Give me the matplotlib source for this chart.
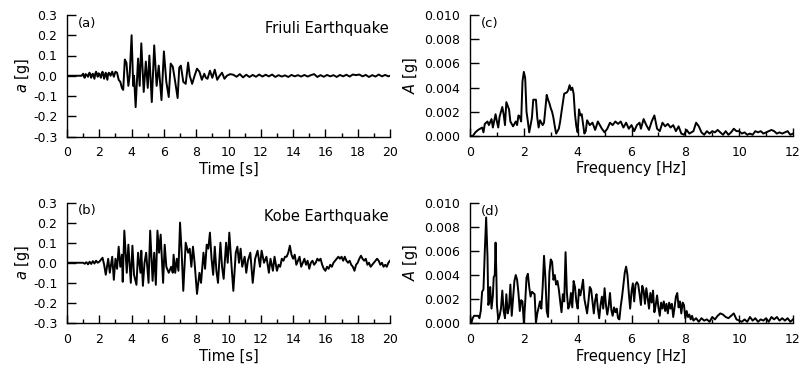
import matplotlib
matplotlib.use("Agg")
import matplotlib.pyplot as plt
from matplotlib.ticker import MultipleLocator

plt.rcParams['font.family'] = ['DejaVu Sans']
plt.rcParams['mathtext.fontset'] = 'custom'
plt.rcParams['mathtext.it'] = 'DejaVu Sans:italic'
plt.rcParams['mathtext.rm'] = 'DejaVu Sans'
plt.rcParams['xtick.direction'] = 'in'
plt.rcParams['ytick.direction'] = 'in'

# ---------------- Friuli time history ----------------
friuli_t = [0.0, 0.9, 1.0, 1.05, 1.1, 1.15, 1.2, 1.3, 1.35, 1.4, 1.5, 1.55, 1.6, 1.7, 1.75, 1.8,
            1.9, 1.95, 2.0, 2.1, 2.15, 2.2, 2.3, 2.35, 2.4, 2.5, 2.55, 2.6, 2.7, 2.75, 2.8, 2.9,
            3.0, 3.1, 3.2, 3.3, 3.4, 3.48, 3.58, 3.68, 3.8, 3.88, 4.0,
            4.1, 4.15, 4.25, 4.4, 4.5, 4.6, 4.75, 4.88, 5.0, 5.1, 5.25, 5.4, 5.55, 5.68, 5.85,
            6.0, 6.15, 6.3, 6.42, 6.55, 6.68, 6.85, 6.95, 7.05, 7.2, 7.35, 7.5, 7.6, 7.75, 7.9,
            8.05, 8.2, 8.35, 8.5, 8.6, 8.7, 8.85, 9.0, 9.15, 9.3, 9.45, 9.6, 9.75, 9.9, 10.1,
            10.3, 10.5, 10.7, 10.9, 11.1, 11.3, 11.5, 11.7, 11.9, 12.1, 12.3, 12.5, 12.7, 12.9,
            13.1, 13.3, 13.5, 13.7, 13.9, 14.1, 14.3, 14.5, 14.7, 14.9, 15.1, 15.3, 15.5, 15.7,
            15.9, 16.1, 16.3, 16.5, 16.7, 16.9, 17.1, 17.3, 17.5, 17.7, 17.9, 18.1, 18.3, 18.5,
            18.7, 18.9, 19.1, 19.3, 19.5, 19.7, 19.9, 20.0]
friuli_a = [0.0, 0.0, 0.01, -0.005, -0.01, 0.008, 0.005, -0.005, 0.01, 0.015, -0.01, 0.005, 0.01,
            -0.015, 0.01, 0.02, -0.005, 0.012, 0.01, -0.01, 0.01, 0.02, -0.015, 0.005, 0.015,
            -0.02, 0.01, 0.015, 0.0, 0.012, 0.02, -0.005, 0.02, 0.015, -0.02, -0.03,
            -0.06, -0.07, 0.08, 0.065, -0.05, 0.0, 0.2, -0.05, 0.0, -0.155, 0.085, -0.05, 0.16,
            -0.08, 0.07, -0.06, 0.1, -0.13, 0.15, -0.05, 0.05, -0.12, 0.12, -0.03, -0.105, 0.06,
            0.045, -0.02, -0.11, 0.04, 0.05, -0.03, -0.04, 0.065, 0.0, -0.04, 0.0, 0.035, 0.02,
            -0.02, 0.01, -0.01, -0.015, 0.025, -0.01, 0.03, -0.02, 0.0, 0.015, -0.015, 0.0, 0.008,
            0.005, -0.005, 0.008, -0.008, 0.005, -0.006, 0.004, -0.005, 0.006, -0.004, 0.005,
            -0.003, 0.006, -0.006, 0.003, -0.004, 0.002, -0.006, 0.004, -0.003, 0.003, -0.004,
            0.004, -0.004, 0.003, 0.008, -0.006, 0.003, -0.005, 0.004, -0.003, 0.003, -0.006,
            0.004, -0.003, 0.005, -0.004, 0.006, 0.003, 0.006, -0.003, 0.004, -0.006, 0.003,
            -0.004, 0.006, -0.003, 0.004, -0.003, 0.0]

# ---------------- Kobe time history ----------------
kobe_t = [0.0, 1.0, 1.1, 1.2, 1.3, 1.4, 1.5, 1.6, 1.7, 1.8, 1.9, 2.0, 2.2, 2.3, 2.4, 2.55, 2.65,
          2.8, 2.9, 3.0, 3.1, 3.2, 3.3, 3.4, 3.45, 3.55, 3.7, 3.8, 3.95, 4.05, 4.15, 4.3, 4.4,
          4.55, 4.6, 4.7, 4.8, 4.9, 5.05, 5.15, 5.3, 5.4, 5.5, 5.6, 5.7, 5.8, 5.95, 6.05, 6.15,
          6.3, 6.45, 6.55, 6.6, 6.7, 6.8, 6.9, 7.0, 7.1, 7.2, 7.35, 7.5, 7.6, 7.7, 7.8, 7.9,
          8.05, 8.2, 8.3, 8.45, 8.55, 8.65, 8.75, 8.85, 8.95, 9.05, 9.15, 9.25, 9.35, 9.5, 9.6,
          9.7, 9.85, 9.95, 10.05, 10.2, 10.3, 10.45, 10.55, 10.65, 10.75, 10.85, 11.0, 11.1,
          11.2, 11.35, 11.5, 11.65, 11.8, 11.95, 12.05, 12.2, 12.35, 12.5, 12.6, 12.75, 12.85,
          13.0, 13.1, 13.2, 13.3, 13.4, 13.5, 13.6, 13.7, 13.8, 13.9, 14.0, 14.1, 14.2, 14.3,
          14.4, 14.5, 14.6, 14.7, 14.8, 14.9, 15.0, 15.1, 15.2, 15.3, 15.4, 15.5, 15.6, 15.7,
          15.8, 15.9, 16.0, 16.1, 16.2, 16.3, 16.4, 16.5, 16.6, 16.7, 16.8, 16.9, 17.0, 17.1,
          17.2, 17.3, 17.4, 17.5, 17.6, 17.7, 17.8, 17.9, 18.0, 18.1, 18.2, 18.3, 18.4, 18.5,
          18.6, 18.7, 18.8, 18.9, 19.0, 19.1, 19.2, 19.3, 19.4, 19.5, 19.6, 19.7, 19.8, 19.9,
          20.0]
kobe_a = [0.0, 0.0, -0.005, 0.003, -0.008, 0.005, -0.006, 0.008, -0.004, 0.01, 0.0, 0.005, 0.025,
          -0.01, -0.06, 0.02, -0.05, 0.03, -0.085, 0.02, -0.03, 0.08, -0.02, 0.04, -0.095, 0.16,
          -0.05, 0.09, -0.1, 0.085, -0.06, -0.11, 0.05, -0.05, 0.06, -0.115, 0.0, 0.05, -0.1,
          0.16, -0.09, 0.05, -0.11, 0.16, 0.05, 0.14, -0.1, 0.09, -0.02, -0.05, -0.02, -0.05,
          0.04, -0.05, 0.02, -0.04, 0.2, 0.05, -0.14, 0.1, 0.05, 0.07, -0.02, 0.08, 0.0, -0.155,
          -0.05, -0.1, 0.05, -0.03, 0.09, 0.07, 0.15, 0.02, -0.06, 0.08, -0.04, -0.1, 0.1, -0.02,
          -0.08, 0.1, 0.0, 0.15, -0.03, -0.14, 0.05, 0.08, 0.0, 0.07, -0.02, 0.03, -0.05, 0.01,
          0.05, -0.1, 0.02, 0.06, -0.02, 0.06, 0.0, 0.03, -0.05, 0.02, -0.04, 0.03,
          -0.04, -0.01, -0.02, 0.02, 0.01, 0.03, 0.03, 0.05, 0.085, 0.04, 0.02, 0.04, -0.01,
          0.01, 0.03, -0.02, 0.0, 0.02, -0.01, 0.01, -0.03, 0.0, 0.01, -0.01, 0.0, 0.02, 0.01,
          0.02, -0.01, -0.03, -0.04, -0.02, -0.03, -0.01, -0.02, 0.0, 0.01, 0.02, 0.03, 0.02,
          0.03, 0.01, 0.03, 0.01, 0.0, 0.01, -0.01, -0.02, -0.04, -0.01, 0.0, 0.02, 0.035,
          0.02, 0.01, 0.02, -0.01, 0.0, -0.02, -0.01, 0.0, 0.01, 0.02, 0.01, -0.01, 0.0,
          -0.02, -0.01, -0.02, 0.0, 0.01]

# ---------------- Friuli Fourier spectrum ----------------
friuli_f = [0.0, 0.1, 0.2, 0.3, 0.45, 0.5, 0.55, 0.65, 0.7, 0.8, 0.85, 0.95, 1.0, 1.05, 1.1, 1.2,
            1.25, 1.3, 1.35, 1.45, 1.5, 1.6, 1.7, 1.75, 1.8, 1.85, 1.9, 1.95, 2.0, 2.05, 2.1,
            2.15, 2.2, 2.3, 2.35, 2.45, 2.5, 2.55, 2.6, 2.65, 2.7, 2.75, 2.85, 2.9, 2.95, 3.0,
            3.05, 3.1, 3.15, 3.2, 3.3, 3.35, 3.4, 3.5, 3.6, 3.65, 3.7, 3.75, 3.8, 3.85, 3.9,
            3.95, 4.0, 4.05, 4.1, 4.15, 4.2, 4.25, 4.3, 4.35, 4.45, 4.55, 4.65, 4.75, 4.9, 5.0,
            5.1, 5.2, 5.3, 5.4, 5.5, 5.6, 5.7, 5.8, 5.9, 6.0, 6.1, 6.2, 6.3, 6.35, 6.45, 6.55,
            6.65, 6.75, 6.85, 6.95, 7.05, 7.15, 7.25, 7.35, 7.45, 7.55, 7.65, 7.75, 7.85, 7.95,
            8.05, 8.15, 8.3, 8.4, 8.5, 8.6, 8.7, 8.8, 8.9, 9.0, 9.1, 9.2, 9.3, 9.4, 9.5, 9.6,
            9.7, 9.8, 9.9, 10.0, 10.1, 10.2, 10.3, 10.4, 10.5, 10.6, 10.7, 10.8, 10.9, 11.0,
            11.1, 11.2, 11.3, 11.4, 11.5, 11.6, 11.7, 11.8, 11.9, 12.0]
friuli_A = [0.0, 0.0, 0.0003, 0.0005, 0.0007, 0.0003, 0.001, 0.0012, 0.0009, 0.0014, 0.0007,
            0.0018, 0.0012, 0.0007, 0.0016, 0.0024, 0.0018, 0.0009, 0.0028, 0.0022, 0.0012,
            0.0008, 0.0012, 0.0009, 0.0017, 0.0016, 0.0012, 0.0045, 0.0053, 0.0048, 0.002,
            0.0012, 0.0003, 0.0015, 0.003, 0.003, 0.0015, 0.0007, 0.0013, 0.0011, 0.0009,
            0.0011, 0.0034, 0.003, 0.0027, 0.0023, 0.002, 0.0015, 0.0008, 0.0002, 0.0006,
            0.0012, 0.002, 0.0035, 0.0036, 0.0038, 0.0042, 0.0038, 0.004, 0.0035, 0.0018,
            0.0008, 0.0003, 0.0022, 0.0017, 0.0018, 0.001, 0.0002, 0.0004, 0.0013, 0.0009,
            0.0011, 0.0005, 0.0012, 0.0006, 0.0003, 0.0006, 0.0011, 0.0009, 0.0012, 0.001,
            0.0012, 0.0007, 0.0011, 0.0006, 0.0009, 0.0004, 0.0009, 0.0011, 0.0006, 0.0014,
            0.0009, 0.0005, 0.0012, 0.0017, 0.0006, 0.0004, 0.0011, 0.0008, 0.001, 0.0007,
            0.0009, 0.0004, 0.0008, 0.0002, 0.0001, 0.0005, 0.0002, 0.0004, 0.0011, 0.0008,
            0.0003, 0.0001, 0.0004, 0.0002, 0.0004, 0.0003, 0.0005, 0.0003, 0.0001, 0.0004,
            0.0001, 0.0003, 0.0006, 0.0004, 0.0004, 0.0002, 0.0003, 0.0001, 0.0002, 0.0001,
            0.0004, 0.0003, 0.0004, 0.0002, 0.0003, 0.0004, 0.0005, 0.0004, 0.0002, 0.0003,
            0.0002, 0.0003, 0.0004, 0.0001, 0.0002]

# ---------------- Kobe Fourier spectrum ----------------
kobe_f = [0.0, 0.02, 0.05, 0.1, 0.15, 0.3, 0.35, 0.4, 0.45, 0.5, 0.55, 0.6, 0.65, 0.68, 0.72,
          0.75, 0.8, 0.85, 0.88, 0.92, 0.95, 0.98, 1.0, 1.05, 1.1, 1.15, 1.2, 1.25, 1.3, 1.35,
          1.4, 1.45, 1.5, 1.55, 1.6, 1.65, 1.7, 1.75, 1.8, 1.85, 1.9, 1.95, 2.0, 2.05, 2.1,
          2.15, 2.2, 2.25, 2.3, 2.35, 2.4, 2.45, 2.5, 2.55, 2.6, 2.65, 2.7, 2.75, 2.8, 2.85,
          2.9, 2.95, 3.0, 3.05, 3.1, 3.15, 3.2, 3.25, 3.3, 3.35, 3.4, 3.45, 3.5, 3.55, 3.6,
          3.65, 3.7, 3.75, 3.8, 3.85, 3.9, 3.95, 4.0, 4.05, 4.1, 4.15, 4.2, 4.25, 4.3, 4.35,
          4.4, 4.45, 4.5, 4.55, 4.6, 4.65, 4.7, 4.75, 4.8, 4.85, 4.9, 4.95, 5.0, 5.05, 5.1,
          5.15, 5.2, 5.25, 5.3, 5.35, 5.4, 5.45, 5.5, 5.55, 5.6, 5.65, 5.7, 5.75, 5.8, 5.85,
          5.9, 5.95, 6.0, 6.05, 6.1, 6.15, 6.2, 6.25, 6.3, 6.35, 6.4, 6.45, 6.5, 6.55, 6.6,
          6.65, 6.7, 6.75, 6.8, 6.85, 6.9, 6.95, 7.0, 7.05, 7.1, 7.15, 7.2, 7.25, 7.3, 7.35,
          7.4, 7.45, 7.5, 7.55, 7.6, 7.65, 7.7, 7.75, 7.8, 7.85, 7.9, 7.95, 8.0, 8.05, 8.1,
          8.15, 8.2, 8.25, 8.3, 8.4, 8.5, 8.6, 8.7, 8.8, 8.9, 9.0, 9.1, 9.2, 9.3, 9.4, 9.5,
          9.6, 9.7, 9.8, 9.9, 10.0, 10.1, 10.2, 10.3, 10.4, 10.5, 10.6, 10.7, 10.8, 10.9,
          11.0, 11.1, 11.2, 11.3, 11.4, 11.5, 11.6, 11.7, 11.8, 11.9, 12.0]
kobe_A = [0.0008, 0.0002, 0.0, 0.0004, 0.0006, 0.0006, 0.0004, 0.001, 0.0026, 0.0028, 0.006,
          0.0088, 0.0055, 0.0015, 0.0018, 0.003, 0.0012, 0.0023, 0.0038, 0.004, 0.0067, 0.004,
          0.0015, 0.0003, 0.0006, 0.0012, 0.0027, 0.001, 0.0004, 0.0024, 0.0008, 0.0013,
          0.0032, 0.0006, 0.002, 0.0035, 0.004, 0.0036, 0.0025, 0.001, 0.0019, 0.0018, 0.0,
          0.0017, 0.0038, 0.0041, 0.003, 0.0022, 0.0026, 0.0025, 0.0024, 0.0, 0.0008, 0.0013,
          0.0018, 0.0012, 0.003, 0.0056, 0.0038, 0.001, 0.0005, 0.0042, 0.0053, 0.0051,
          0.0036, 0.004, 0.0032, 0.0035, 0.0028, 0.0018, 0.0009, 0.0024, 0.0018, 0.0059,
          0.0025, 0.0012, 0.0015, 0.0025, 0.0013, 0.0035, 0.003, 0.0018, 0.0012, 0.0028,
          0.0023, 0.0029, 0.0036, 0.002, 0.0014, 0.0008, 0.0018, 0.003, 0.0028, 0.0018,
          0.0008, 0.0019, 0.0024, 0.0012, 0.0004, 0.0015, 0.0022, 0.0012, 0.0029, 0.0015,
          0.0007, 0.0014, 0.0025, 0.0011, 0.0006, 0.0013, 0.0009, 0.0012, 0.0004, 0.0003,
          0.0014, 0.0022, 0.0032, 0.0042, 0.0047, 0.004, 0.0025, 0.0012, 0.0026, 0.0033,
          0.0018, 0.0032, 0.0034, 0.0032, 0.0024, 0.0015, 0.0031, 0.0027, 0.0016, 0.0029,
          0.0021, 0.0012, 0.0025, 0.0017, 0.0027, 0.0009, 0.0015, 0.0023, 0.0013, 0.0006,
          0.0017, 0.0012, 0.0018, 0.001, 0.0016, 0.0008, 0.0017, 0.0012, 0.0016, 0.0005,
          0.0013, 0.0022, 0.0025, 0.0013, 0.0018, 0.0008, 0.0017, 0.0015, 0.0004, 0.001,
          0.0005, 0.0007, 0.0003, 0.0006, 0.0002, 0.0004, 0.0001, 0.0004, 0.0002, 0.0003,
          0.0001, 0.0005, 0.0003, 0.0006, 0.0008, 0.0007, 0.0005, 0.0004, 0.0006, 0.0008,
          0.0003, 0.0002, 0.0001, 0.0003, 0.0001, 0.0005, 0.0002, 0.0004, 0.0001, 0.0003,
          0.0002, 0.0004, 0.0001, 0.0005, 0.0003, 0.0005, 0.0002, 0.0004, 0.0002, 0.0004,
          0.0001, 0.0003]

panel_labels = ["(a)", "(b)", "(c)", "(d)"]
quake_names = ["Friuli Earthquake", "Kobe Earthquake"]

fig = plt.figure(figsize=(8.01, 3.72), dpi=100)
W, H = 801.0, 372.0

def make_ax(x0, x1, y0, y1):
    return fig.add_axes([x0 / W, 1 - y1 / H, (x1 - x0) / W, (y1 - y0) / H])

ax_a = make_ax(67, 390, 15, 136.5)
ax_b = make_ax(67, 390, 202.5, 323)
ax_c = make_ax(470, 793, 15, 136)
ax_d = make_ax(470, 793, 203, 323)

LW = 1.4
TICK = 9
LAB = 10.5

def style(ax, xlim, ylim, xmaj, xmin, ymaj, yfmt):
    for s in ['top', 'right']:
        ax.spines[s].set_visible(False)
    for s in ['left', 'bottom']:
        ax.spines[s].set_linewidth(1.0)
    ax.set_xlim(*xlim)
    ax.set_ylim(*ylim)
    ax.xaxis.set_major_locator(MultipleLocator(xmaj))
    ax.xaxis.set_minor_locator(MultipleLocator(xmin))
    ax.yaxis.set_major_locator(MultipleLocator(ymaj))
    ax.yaxis.set_major_formatter(plt.FormatStrFormatter(yfmt))
    ax.tick_params(axis='x', which='major', direction='in', length=6, width=1.0,
                   labelsize=TICK, pad=7)
    ax.tick_params(axis='x', which='minor', direction='in', length=3, width=1.0)
    ax.tick_params(axis='y', which='major', direction='in', length=6.5, width=1.0,
                   labelsize=TICK, pad=7)

for ax, t, a, lab, name in [(ax_a, friuli_t, friuli_a, panel_labels[0], quake_names[0]),
                            (ax_b, kobe_t, kobe_a, panel_labels[1], quake_names[1])]:
    ax.plot(t, a, color='black', lw=LW)
    style(ax, (0, 20), (-0.3, 0.3), 2, 1, 0.1, '%.1f')
    ax.set_xlabel('Time [s]', fontsize=LAB, labelpad=2)
    ax.set_ylabel('$a$ [g]', fontsize=LAB, labelpad=1)
    ax.text(0.035, 0.985, lab, transform=ax.transAxes, ha='left', va='top', fontsize=9.5)
    ax.text(0.995, 0.95, name, transform=ax.transAxes, ha='right', va='top', fontsize=LAB)

for ax, f, A, lab in [(ax_c, friuli_f, friuli_A, panel_labels[2]),
                      (ax_d, kobe_f, kobe_A, panel_labels[3])]:
    ax.plot(f, A, color='black', lw=LW)
    style(ax, (0, 12), (0, 0.010), 2, 1, 0.002, '%.3f')
    ax.set_xlabel('Frequency [Hz]', fontsize=LAB, labelpad=2)
    ax.set_ylabel('$A$ [g]', fontsize=LAB, labelpad=3)
    ax.text(0.035, 0.985, lab, transform=ax.transAxes, ha='left', va='top', fontsize=9.5)

fig.savefig('out.png', dpi=100)
